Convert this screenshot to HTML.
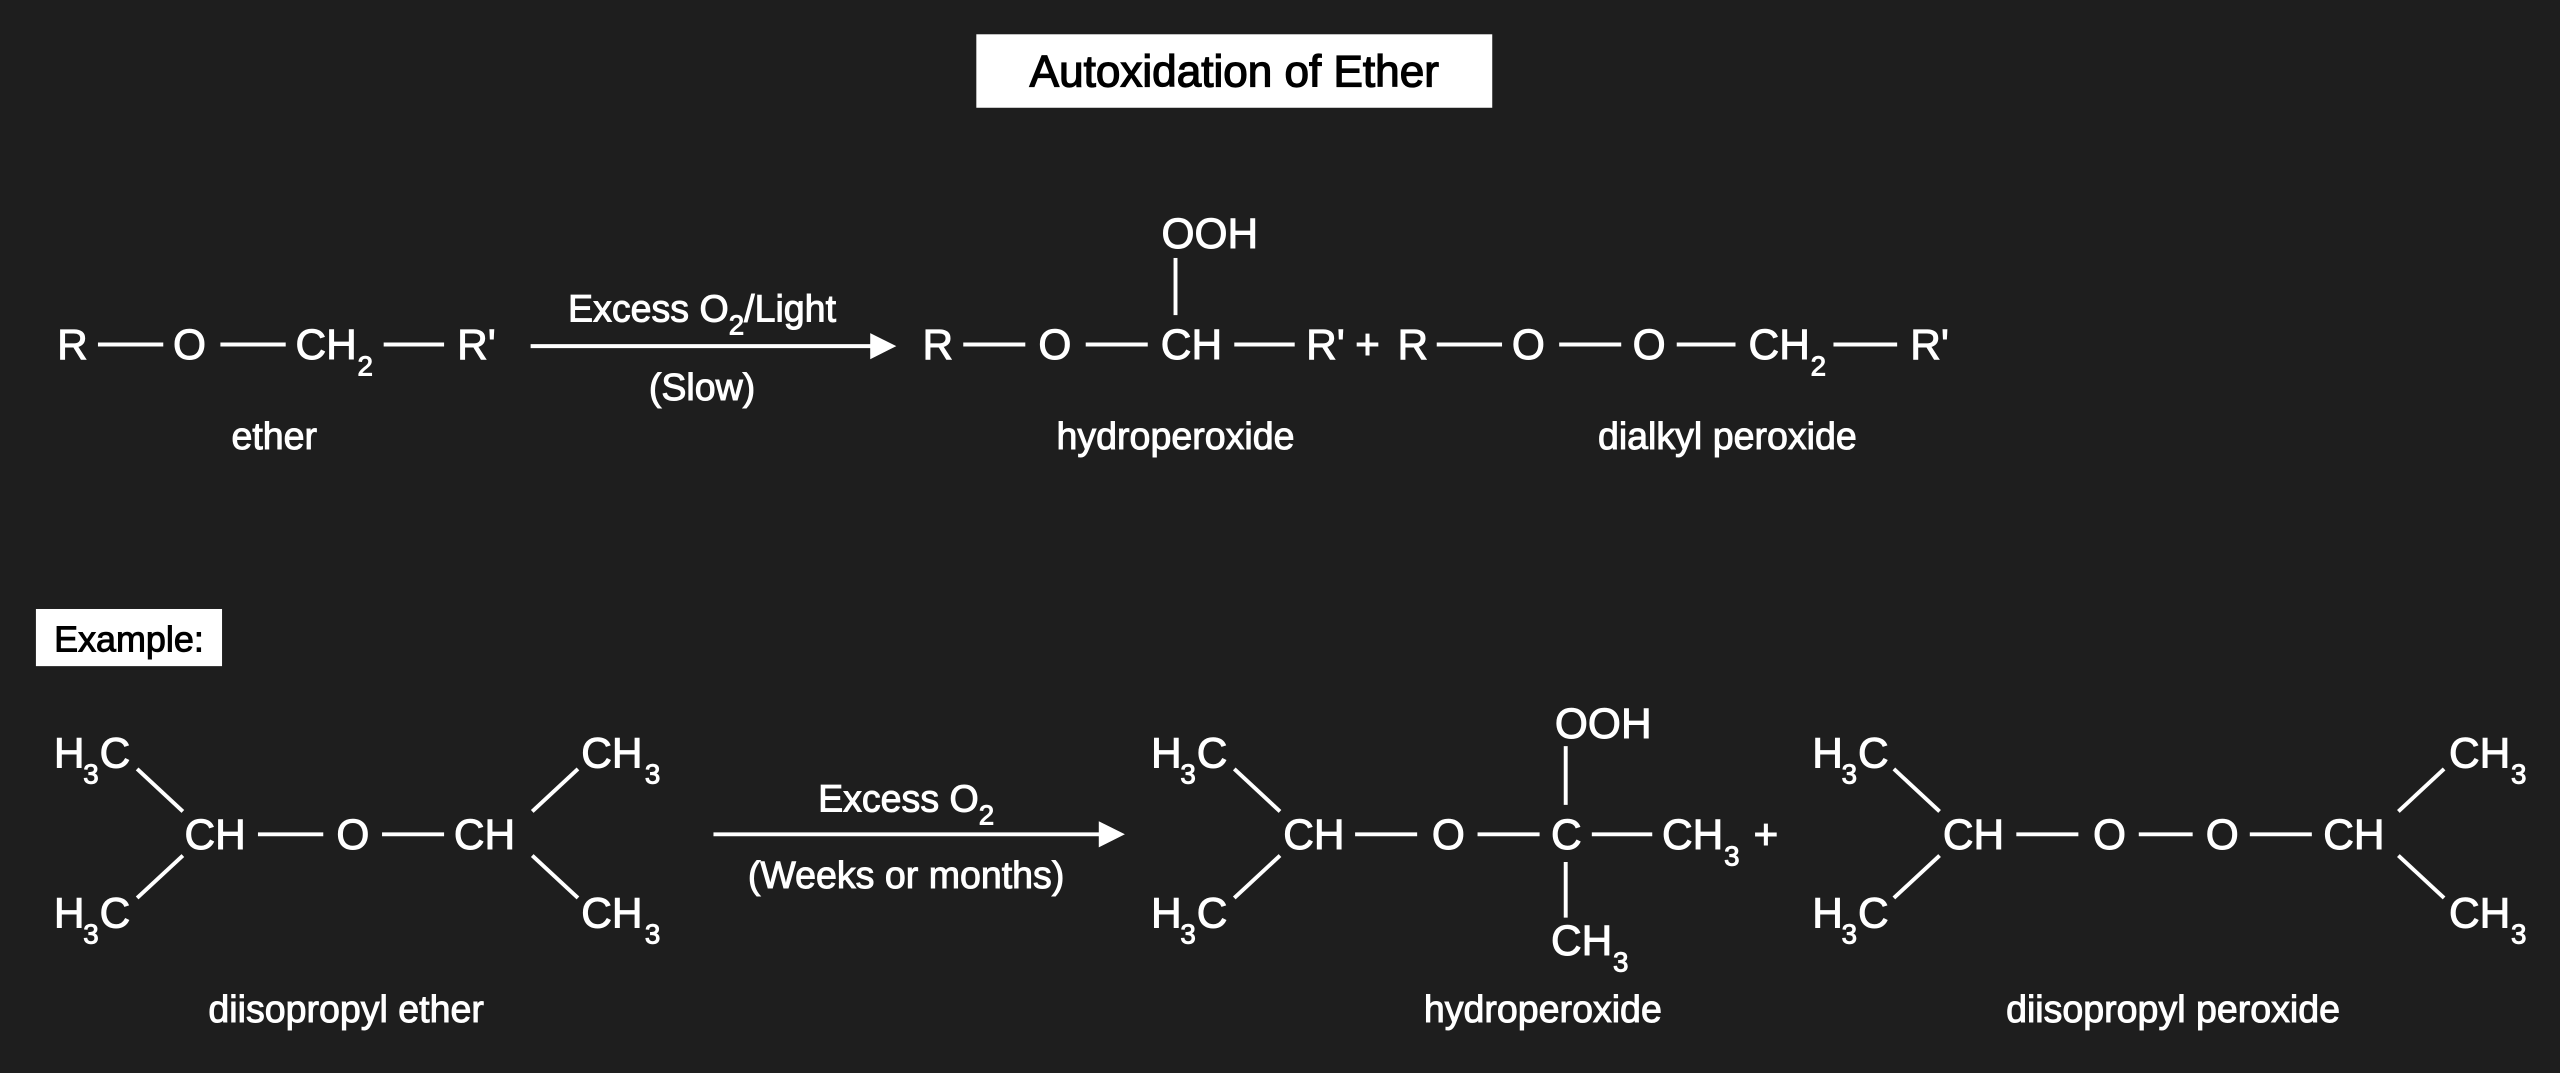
<!DOCTYPE html>
<html><head><meta charset="utf-8"><style>
html,body{margin:0;padding:0;background:#1e1e1e;}
svg{display:block;}
text{font-family:"Liberation Sans",sans-serif;fill:#fff;stroke:#fff;stroke-width:0.6px;}
.s{font-size:17px;}
</style></head><body>
<svg width="2560" height="1073" viewBox="0 0 1568 657.2" preserveAspectRatio="none" xmlns="http://www.w3.org/2000/svg">
<rect width="1568" height="657.2" fill="#1e1e1e"/>
<g stroke="#fff" stroke-width="2.4" fill="none">
<line x1="60" y1="211" x2="100" y2="211"/>
<line x1="135" y1="211" x2="175" y2="211"/>
<line x1="235" y1="211" x2="272" y2="211"/>
<line x1="325" y1="212" x2="536" y2="212"/>
<line x1="590" y1="211" x2="628" y2="211"/>
<line x1="665" y1="211" x2="703" y2="211"/>
<line x1="720" y1="158" x2="720" y2="193"/>
<line x1="756" y1="211" x2="793" y2="211"/>
<line x1="880" y1="211" x2="920" y2="211"/>
<line x1="955" y1="211" x2="993" y2="211"/>
<line x1="1027" y1="211" x2="1063" y2="211"/>
<line x1="1123" y1="211" x2="1162" y2="211"/>
<line x1="84" y1="471" x2="112" y2="497"/>
<line x1="84" y1="550" x2="112" y2="524"/>
<line x1="158" y1="511" x2="198" y2="511"/>
<line x1="234" y1="511" x2="272" y2="511"/>
<line x1="326" y1="497" x2="354" y2="471"/>
<line x1="326" y1="524" x2="354" y2="550"/>
<line x1="437" y1="511" x2="676" y2="511"/>
<line x1="756" y1="471" x2="784" y2="497"/>
<line x1="756" y1="550" x2="784" y2="524"/>
<line x1="830" y1="511" x2="868" y2="511"/>
<line x1="905" y1="511" x2="943" y2="511"/>
<line x1="959" y1="457" x2="959" y2="493"/>
<line x1="959" y1="528" x2="959" y2="562"/>
<line x1="975" y1="511" x2="1012" y2="511"/>
<line x1="1160" y1="471" x2="1188" y2="497"/>
<line x1="1160" y1="550" x2="1188" y2="524"/>
<line x1="1235" y1="511" x2="1273" y2="511"/>
<line x1="1310" y1="511" x2="1343" y2="511"/>
<line x1="1378" y1="511" x2="1416" y2="511"/>
<line x1="1469" y1="497" x2="1497" y2="471"/>
<line x1="1469" y1="524" x2="1497" y2="550"/>
</g>
<polygon points="533,204 549,212 533,220" fill="#fff"/>
<polygon points="673,503 689,511 673,519" fill="#fff"/>

<rect x="598" y="21" width="316" height="45" fill="#fff"/>
<text x="756" y="53" text-anchor="middle" style="font-size:27px;fill:#000;stroke:#000;stroke-width:0.8px">Autoxidation of Ether</text>
<rect x="22" y="373" width="114" height="35" fill="#fff"/>
<text x="79" y="399" text-anchor="middle" style="font-size:22px;fill:#000;stroke:#000;stroke-width:0.6px">Example:</text>

<g style="font-size:26px">
<text x="35" y="220">R</text>
<text x="106" y="220">O</text>
<text x="181" y="220">CH</text><text class="s" x="219" y="230">2</text>
<text x="280" y="220">R'</text>
<text x="565" y="220">R</text>
<text x="636" y="220">O</text>
<text x="711" y="220">CH</text>
<text x="741" y="152" text-anchor="middle">OOH</text>
<text x="800" y="220">R'</text>
<text x="830" y="220">+</text>
<text x="856" y="220">R</text>
<text x="926" y="220">O</text>
<text x="1000" y="220">O</text>
<text x="1071" y="220">CH</text><text class="s" x="1109" y="230">2</text>
<text x="1170" y="220">R'</text>

<text x="33" y="470">H</text><text class="s" x="51" y="480">3</text><text x="61" y="470">C</text>
<text x="33" y="568">H</text><text class="s" x="51" y="578">3</text><text x="61" y="568">C</text>
<text x="113" y="520">CH</text>
<text x="206" y="520">O</text>
<text x="278" y="520">CH</text>
<text x="356" y="470">CH</text><text class="s" x="395" y="480">3</text>
<text x="356" y="568">CH</text><text class="s" x="395" y="578">3</text>

<text x="705" y="470">H</text><text class="s" x="723" y="480">3</text><text x="733" y="470">C</text>
<text x="705" y="568">H</text><text class="s" x="723" y="578">3</text><text x="733" y="568">C</text>
<text x="786" y="520">CH</text>
<text x="877" y="520">O</text>
<text x="950" y="520">C</text>
<text x="982" y="452" text-anchor="middle">OOH</text>
<text x="950" y="585">CH</text><text class="s" x="988" y="595">3</text>
<text x="1018" y="520">CH</text><text class="s" x="1056" y="530">3</text>
<text x="1074" y="520">+</text>
<text x="1110" y="470">H</text><text class="s" x="1128" y="480">3</text><text x="1138" y="470">C</text>
<text x="1110" y="568">H</text><text class="s" x="1128" y="578">3</text><text x="1138" y="568">C</text>
<text x="1190" y="520">CH</text>
<text x="1282" y="520">O</text>
<text x="1351" y="520">O</text>
<text x="1423" y="520">CH</text>
<text x="1500" y="470">CH</text><text class="s" x="1538" y="480">3</text>
<text x="1500" y="568">CH</text><text class="s" x="1538" y="578">3</text>
</g>

<g style="font-size:23px">
<text x="430" y="197" text-anchor="middle">Excess O<tspan class="s" dy="8">2</tspan><tspan dy="-8">/Light</tspan></text>
<text x="430" y="245" text-anchor="middle">(Slow)</text>
<text x="168" y="275" text-anchor="middle">ether</text>
<text x="720" y="275" text-anchor="middle">hydroperoxide</text>
<text x="1058" y="275" text-anchor="middle">dialkyl peroxide</text>
<text x="555" y="497" text-anchor="middle">Excess O<tspan class="s" dy="8">2</tspan></text>
<text x="555" y="544" text-anchor="middle">(Weeks or months)</text>
<text x="212" y="626" text-anchor="middle">diisopropyl ether</text>
<text x="945" y="626" text-anchor="middle">hydroperoxide</text>
<text x="1331" y="626" text-anchor="middle">diisopropyl peroxide</text>
</g>
</svg>
</body></html>
